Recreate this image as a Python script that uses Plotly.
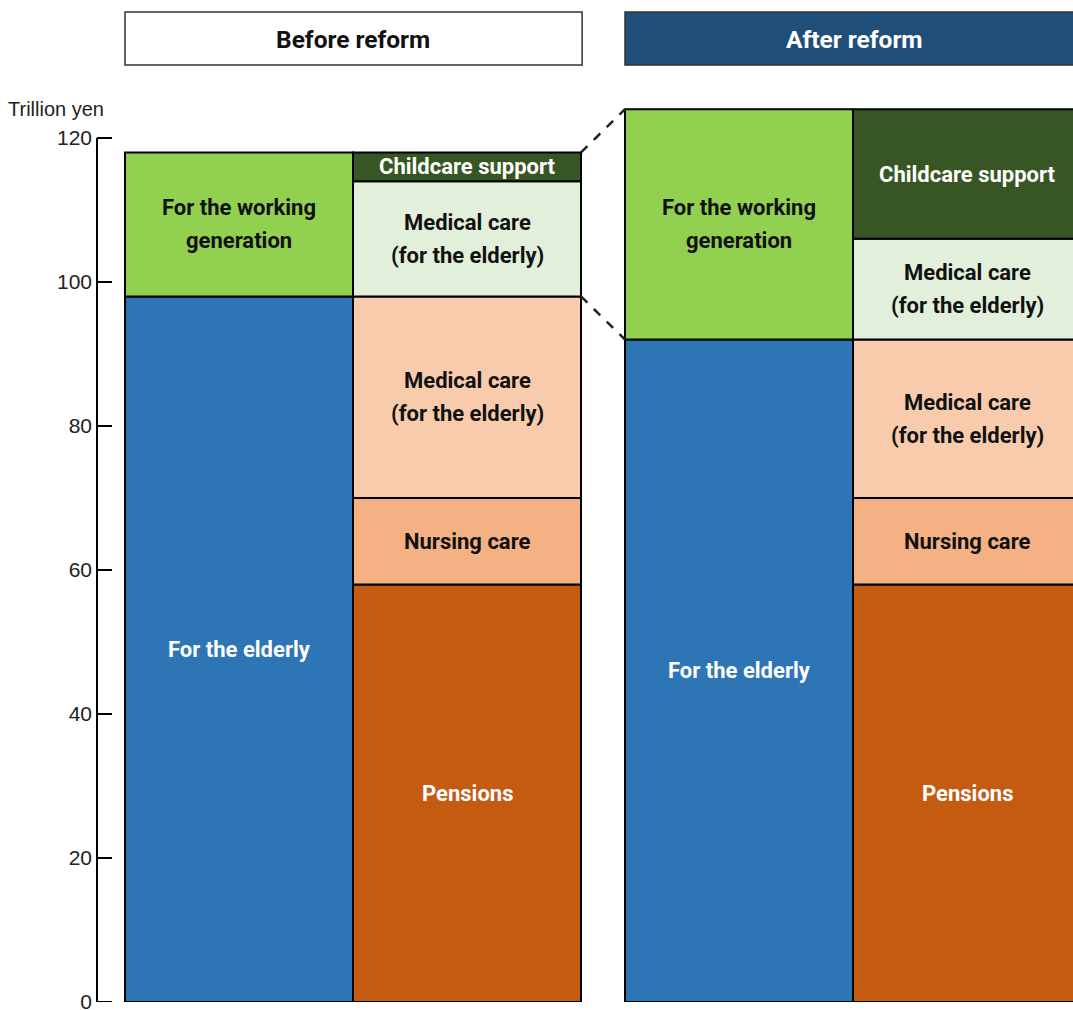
import plotly.graph_objects as go

# ---------------- data (trillion yen) ----------------
panels = ["Before reform", "After reform"]

# Left column of each panel: by beneficiary
beneficiary_labels = ["For the elderly", "For the working<br>generation"]
beneficiary_before = [98, 20]
beneficiary_after = [92, 32]

# Right column of each panel: by item
item_labels = ["Pensions", "Nursing care", "Medical care<br>(for the elderly)",
               "Medical care<br>(for the elderly)", "Childcare support"]
item_before = [58, 12, 28, 16, 4]
item_after = [58, 12, 22, 14, 18]

y_ticks = [0, 20, 40, 60, 80, 100, 120]
y_title = "Trillion yen"

# ---------------- styling ----------------
beneficiary_colors = ["#2E75B6", "#92D050"]
beneficiary_text = ["white", "#111111"]
item_colors = ["#C55A11", "#F4B183", "#F8CBAD", "#E2EFDA", "#375623"]
item_text = ["white", "#111111", "#111111", "#111111", "white"]

col_pos = [0.0, 1.0, 2.193, 3.193]  # column centres (1 unit = bar width)
LBL_FONT = "Roboto"
AX_FONT = "Liberation Sans"
LINE_GAP = 33  # px between label lines

fig = go.Figure()
annotations = []

columns = [
    (col_pos[0], beneficiary_before, beneficiary_labels, beneficiary_colors, beneficiary_text),
    (col_pos[1], item_before, item_labels, item_colors, item_text),
    (col_pos[2], beneficiary_after, beneficiary_labels, beneficiary_colors, beneficiary_text),
    (col_pos[3], item_after, item_labels, item_colors, item_text),
]

for x, vals, labels, colors, tcols in columns:
    base = 0
    for v, lab, c, tc in zip(vals, labels, colors, tcols):
        fig.add_trace(go.Bar(
            x=[x], y=[v], base=[base], width=1.0,
            marker=dict(color=c, line=dict(color="black", width=2)),
            hoverinfo="skip", showlegend=False,
        ))
        lines = lab.split("<br>")
        n = len(lines)
        for i, ln in enumerate(lines):
            shift = ((n - 1) / 2 - i) * LINE_GAP
            annotations.append(dict(
                x=x, y=base + v / 2, xref="x", yref="y", text="<b>" + ln + "</b>",
                showarrow=False, font=dict(family=LBL_FONT, size=22, color=tc),
                xanchor="center", yanchor="middle", yshift=shift,
            ))
        base += v

# y-axis title
annotations.append(dict(
    x=0, y=(1002 - 109) / 900, xref="paper", yref="paper", text=y_title,
    showarrow=False, xanchor="right", yanchor="middle", xshift=9,
    font=dict(family=AX_FONT, size=20, color="#222222"),
))

# Panel headers
hdr_y0, hdr_y1 = (1002 - 65) / 900, (1002 - 12) / 900
shapes = [
    dict(type="rect", xref="x", yref="paper", x0=-0.5, x1=1.505, y0=hdr_y0, y1=hdr_y1,
         fillcolor="white", line=dict(color="#333333", width=1.5), layer="above"),
    dict(type="rect", xref="x", yref="paper", x0=1.693, x1=3.8, y0=hdr_y0, y1=hdr_y1,
         fillcolor="#1F4E79", line=dict(color="#333333", width=1.5), layer="above"),
]
annotations.append(dict(x=0.5, y=(hdr_y0 + hdr_y1) / 2, xref="x", yref="paper",
                        text="<b>" + panels[0] + "</b>", showarrow=False,
                        xanchor="center", yanchor="middle", yshift=-1,
                        font=dict(family=LBL_FONT, size=24.5, color="#111111")))
annotations.append(dict(x=2.700, y=(hdr_y0 + hdr_y1) / 2, xref="x", yref="paper",
                        text="<b>" + panels[1] + "</b>", showarrow=False,
                        xanchor="center", yanchor="middle", yshift=-1,
                        font=dict(family=LBL_FONT, size=24.5, color="white")))

# Dashed connector lines (zoom from before-reform top to after-reform bar)
shapes.append(dict(type="line", xref="x", yref="y", x0=col_pos[1] + 0.5, x1=col_pos[2] - 0.5,
                   y0=sum(beneficiary_before), y1=sum(beneficiary_after),
                   line=dict(color="#222222", width=2.5, dash="dash")))
shapes.append(dict(type="line", xref="x", yref="y", x0=col_pos[1] + 0.5, x1=col_pos[2] - 0.5,
                   y0=beneficiary_before[0], y1=beneficiary_after[0],
                   line=dict(color="#222222", width=2.5, dash="dash")))

# y-axis line from 0 to 120 only
shapes.append(dict(type="line", xref="paper", yref="y", x0=0, x1=0,
                   y0=y_ticks[0], y1=y_ticks[-1], line=dict(color="black", width=2)))
# tick at 0 (sits on the plot edge)
shapes.append(dict(type="line", xref="paper", yref="y", x0=0, x1=15 / 976,
                   y0=y_ticks[0], y1=y_ticks[0], line=dict(color="black", width=2)))

fig.update_layout(
    width=1073, height=1010,
    margin=dict(l=97, r=0, t=102, b=8, autoexpand=False),
    paper_bgcolor="white", plot_bgcolor="white",
    barmode="overlay",
    showlegend=False,
    xaxis=dict(range=[-0.6228, -0.6228 + 976 / 228], visible=False, fixedrange=True,
               automargin=False),
    yaxis=dict(range=[0, 125], tickvals=y_ticks, ticktext=[str(t) for t in y_ticks],
               ticks="inside", ticklen=15, tickwidth=2, tickcolor="black",
               showgrid=False, zeroline=False, showline=False, automargin=False,
               tickfont=dict(family=AX_FONT, size=21, color="#222222"),
               ticklabelstandoff=4, ticklabeloverflow="allow"),
    shapes=shapes,
    annotations=annotations,
)

fig.write_html("out.html")
